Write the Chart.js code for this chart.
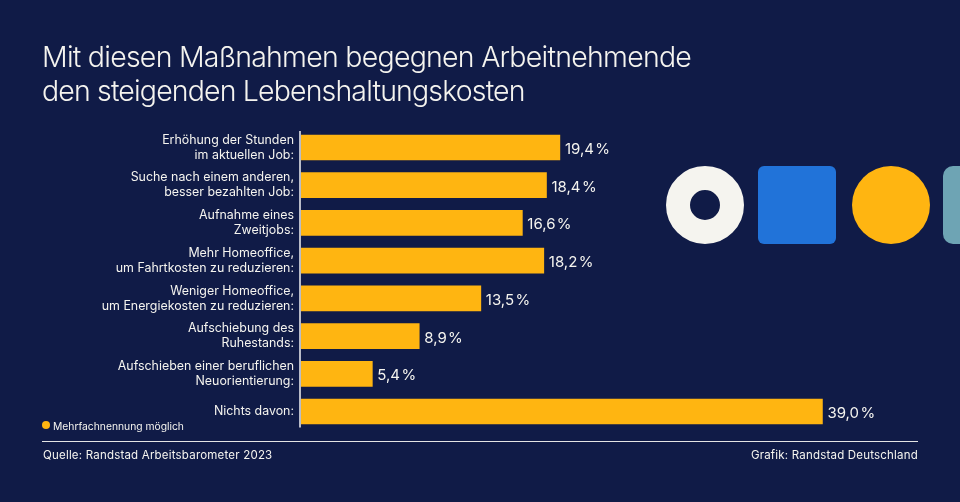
<!DOCTYPE html>
<html lang="de">
<head>
<meta charset="utf-8">
<title>Arbeitsbarometer</title>
<script src="https://cdn.jsdelivr.net/npm/chart.js@4"></script>
<style>
    html, body { margin: 0; padding: 0; background: #101b47; }
    #wrap { position: relative; width: 960px; height: 502px; overflow: hidden; font-family: Inter, sans-serif; color: #f5f4ef; }
    #chart { position: absolute; left: 0; top: 0; }
    .title { position: absolute; left: 42px; font-size: 28.5px; font-weight: 300; letter-spacing: -0.75px; white-space: nowrap; line-height: 36px; }
    .shape { position: absolute; top: 166px; width: 78px; height: 78px; box-sizing: border-box; }
    .note { position: absolute; left: 53px; top: 419px; font-size: 10.3px; line-height: 14px; white-space: nowrap; }
    .dot { position: absolute; left: 42px; top: 421px; width: 8px; height: 8px; border-radius: 50%; background: #ffb511; }
    .rule { position: absolute; left: 42px; top: 441px; width: 876px; height: 1px; background: #e4e4e4; }
    .foot { position: absolute; top: 447px; font-size: 11.5px; line-height: 16px; letter-spacing: 0.2px; white-space: nowrap; }
</style>
</head>
<body>
<div id="wrap">
    <canvas id="chart" width="960" height="502"></canvas>
    <div class="title" style="top:39px">Mit diesen Maßnahmen begegnen Arbeitnehmende</div>
    <div class="title" style="top:73px;letter-spacing:-0.85px">den steigenden Lebenshaltungskosten</div>
    <div class="shape" style="left:666px;border-radius:50%;border:24px solid #f5f4ef"></div>
    <div class="shape" style="left:758px;border-radius:6px;background:#2173d9"></div>
    <div class="shape" style="left:852px;border-radius:50%;background:#ffb511"></div>
    <div class="shape" style="left:943px;border-radius:10px 0 0 10px;width:17px;background:#6ea4b4"></div>
    <div class="dot"></div>
    <div class="note">Mehrfachnennung möglich</div>
    <div class="rule"></div>
    <div class="foot" style="left:43px">Quelle: Randstad Arbeitsbarometer 2023</div>
    <div class="foot" style="right:42px">Grafik: Randstad Deutschland</div>
</div>
<script>
const categories = [
    ['Erhöhung der Stunden', 'im aktuellen Job:'],
    ['Suche nach einem anderen,', 'besser bezahlten Job:'],
    ['Aufnahme eines', 'Zweitjobs:'],
    ['Mehr Homeoffice,', 'um Fahrtkosten zu reduzieren:'],
    ['Weniger Homeoffice,', 'um Energiekosten zu reduzieren:'],
    ['Aufschiebung des', 'Ruhestands:'],
    ['Aufschieben einer beruflichen', 'Neuorientierung:'],
    'Nichts davon:'
];
const shares = [19.4, 18.4, 16.6, 18.2, 13.5, 8.9, 5.4, 39.0];

// value labels and the short axis line
const extras = {
    id: 'extras',
    afterDatasetsDraw(chart) {
        const { ctx, chartArea } = chart;
        ctx.save();
        ctx.strokeStyle = '#b9bcc8';
        ctx.lineWidth = 2;
        ctx.beginPath();
        ctx.moveTo(chartArea.left, chartArea.top + 2.5);
        ctx.lineTo(chartArea.left, chartArea.bottom - 3);
        ctx.stroke();
        ctx.fillStyle = '#f5f4ef';
        ctx.font = '15px Inter, sans-serif';
        ctx.textBaseline = 'middle';
        chart.getDatasetMeta(0).data.forEach((bar, i) => {
            const text = shares[i].toFixed(1).replace('.', ',') + '\u200a%';
            ctx.fillText(text, bar.x + 5, bar.y + 2);
        });
        ctx.restore();
    }
};

new Chart(document.getElementById('chart').getContext('2d'), {
    type: 'bar',
    data: {
        labels: categories,
        datasets: [{
            data: shares,
            backgroundColor: '#ffb511',
            barThickness: 25
        }]
    },
    options: {
        indexAxis: 'y',
        responsive: false,
        animation: false,
        layout: { padding: { top: 128.6, bottom: 71.6, left: 0, right: 17 } },
        plugins: { legend: { display: false }, tooltip: { enabled: false } },
        scales: {
            x: { display: false, min: 0, max: 48 },
            y: {
                afterFit(scale) { scale.width = 300; },
                border: { display: false },
                grid: { display: false, drawTicks: false },
                ticks: {
                    color: '#f5f4ef',
                    font: { family: 'Inter, sans-serif', size: 12.4, lineHeight: 1.2 },
                    padding: 6,
                    autoSkip: false
                }
            }
        }
    },
    plugins: [extras]
});
</script>
</body>
</html>
